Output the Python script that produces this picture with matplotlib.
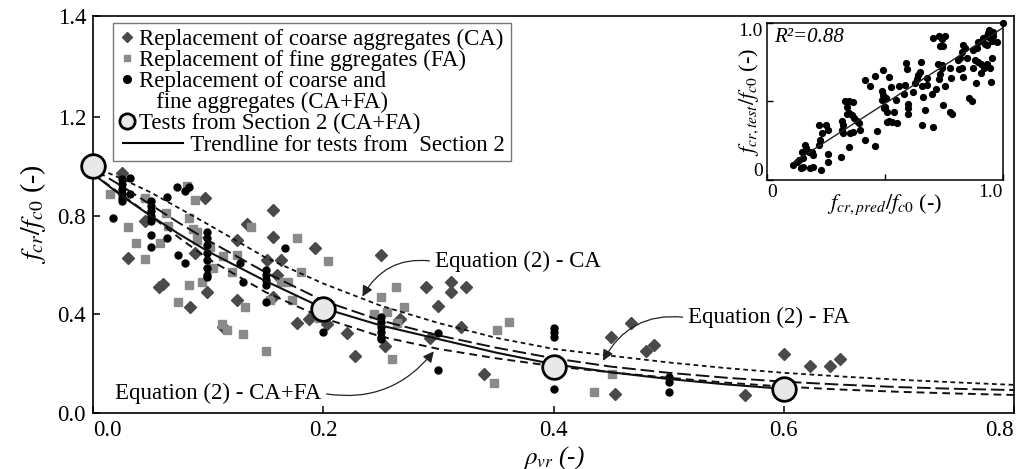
import numpy as np
import matplotlib
matplotlib.use("Agg")
import matplotlib.pyplot as plt
from matplotlib.lines import Line2D
from matplotlib.legend_handler import HandlerLine2D

plt.rcParams['font.family'] = ['Liberation Serif', 'DejaVu Serif']
plt.rcParams['mathtext.fontset'] = 'stix'

# ---------------- data ----------------
# Replacement of coarse aggregates (CA)
ca_rho = [0.025, 0.030, 0.045, 0.057, 0.061, 0.097, 0.089, 0.099, 0.084, 0.113,
          0.125, 0.134, 0.125, 0.156, 0.156, 0.151, 0.163, 0.160, 0.156, 0.177,
          0.188, 0.193, 0.203, 0.221, 0.228, 0.250, 0.254, 0.267, 0.289, 0.311,
          0.311, 0.324, 0.300, 0.320, 0.293, 0.340, 0.450, 0.467, 0.480, 0.487,
          0.453, 0.566, 0.600, 0.623, 0.640, 0.649]
ca_val = [0.975, 0.630, 0.780, 0.510, 0.525, 0.870, 0.650, 0.490, 0.430, 0.350,
          0.700, 0.765, 0.460, 0.825, 0.715, 0.620, 0.620, 0.560, 0.470, 0.365,
          0.380, 0.670, 0.360, 0.325, 0.230, 0.640, 0.270, 0.380, 0.510, 0.530,
          0.490, 0.510, 0.435, 0.350, 0.305, 0.160, 0.310, 0.365, 0.250, 0.275,
          0.077, 0.073, 0.240, 0.190, 0.190, 0.220]

# Replacement of fine aggregates (FA)
fa_rho = [0.015, 0.030, 0.037, 0.045, 0.045, 0.058, 0.065, 0.063, 0.074, 0.083,
          0.082, 0.089, 0.083, 0.087, 0.090, 0.090, 0.102, 0.104, 0.095, 0.113,
          0.121, 0.125, 0.112, 0.116, 0.130, 0.132, 0.137, 0.150, 0.154, 0.163,
          0.169, 0.177, 0.181, 0.173, 0.196, 0.204, 0.250, 0.244, 0.255, 0.263,
          0.260, 0.264, 0.270, 0.351, 0.361, 0.348, 0.435, 0.451]
fa_val = [0.890, 0.755, 0.690, 0.625, 0.870, 0.690, 0.760, 0.810, 0.450, 0.520,
          0.920, 0.865, 0.790, 0.745, 0.735, 0.700, 0.675, 0.590, 0.530, 0.635,
          0.570, 0.640, 0.360, 0.335, 0.320, 0.430, 0.755, 0.250, 0.460, 0.530,
          0.530, 0.710, 0.570, 0.460, 0.385, 0.615, 0.470, 0.400, 0.410, 0.510,
          0.220, 0.365, 0.430, 0.335, 0.370, 0.120, 0.085, 0.160]

# Replacement of coarse and fine aggregates (CA+FA)
cafa_rho = [0.025, 0.025, 0.025, 0.025, 0.025, 0.025, 0.032, 0.032, 0.017,
            0.050, 0.050, 0.050, 0.050, 0.050, 0.050, 0.050,
            0.064, 0.064, 0.073, 0.080, 0.083, 0.074, 0.080,
            0.099, 0.099, 0.099, 0.099, 0.099, 0.099, 0.099, 0.099,
            0.128, 0.130, 0.167,
            0.150, 0.150, 0.150, 0.150, 0.150,
            0.200,
            0.250, 0.250, 0.250, 0.250, 0.250, 0.250,
            0.300, 0.300,
            0.400, 0.400, 0.400, 0.400,
            0.500, 0.500, 0.500]
cafa_val = [0.950, 0.930, 0.910, 0.890, 0.870, 0.860, 0.955, 0.890, 0.790,
            0.860, 0.840, 0.820, 0.800, 0.780, 0.720, 0.675,
            0.875, 0.710, 0.915, 0.900, 0.915, 0.640, 0.610,
            0.735, 0.710, 0.680, 0.650, 0.620, 0.590, 0.560, 0.550,
            0.610, 0.530, 0.670,
            0.580, 0.560, 0.540, 0.520, 0.450,
            0.330,
            0.390, 0.370, 0.350, 0.330, 0.310, 0.300,
            0.325, 0.175,
            0.345, 0.330, 0.310, 0.097,
            0.145, 0.125, 0.085]

# Tests from Section 2 (CA+FA)
sec2_rho = [0.0, 0.2, 0.4, 0.6]
sec2_val = [1.0, 0.42, 0.187, 0.098]

# Trendline for tests from Section 2
trend_rho = [0.0, 0.025, 0.05, 0.075, 0.10, 0.15, 0.20, 0.25, 0.30, 0.35, 0.40,
             0.45, 0.50, 0.55, 0.60]
trend_val = [0.97, 0.88, 0.80, 0.725, 0.655, 0.535, 0.425, 0.355, 0.300, 0.245,
             0.198, 0.165, 0.138, 0.116, 0.098]

# Equation (2) curves
eq_rho = [0.0, 0.025, 0.05, 0.075, 0.10, 0.15, 0.20, 0.25, 0.30, 0.35, 0.40,
          0.45, 0.50, 0.55, 0.60, 0.65, 0.70, 0.75, 0.80]
eq_ca = [1.0, 0.95, 0.895, 0.83, 0.765, 0.63, 0.525, 0.435, 0.365, 0.305,
         0.26, 0.232, 0.205, 0.182, 0.163, 0.148, 0.135, 0.124, 0.114]
eq_fa = [0.99, 0.92, 0.845, 0.77, 0.70, 0.57, 0.455, 0.375, 0.315, 0.265,
         0.222, 0.188, 0.163, 0.143, 0.127, 0.115, 0.105, 0.098, 0.093]
eq_cafa = [0.97, 0.885, 0.80, 0.71, 0.625, 0.49, 0.385, 0.31, 0.26, 0.222,
           0.19, 0.165, 0.143, 0.123, 0.107, 0.095, 0.086, 0.079, 0.073]

# Inset: predicted vs tested strength ratio
inset_pred = [0.112, 0.137, 0.143, 0.151, 0.161, 0.165, 0.179, 0.182, 0.194, 0.196,
              0.229, 0.222, 0.225, 0.232, 0.222, 0.250, 0.260, 0.260, 0.260, 0.147,
              0.129, 0.154, 0.189,
              0.314, 0.349, 0.316, 0.321, 0.316, 0.323, 0.331, 0.349, 0.366, 0.340,
              0.349, 0.359, 0.338, 0.369, 0.383, 0.391, 0.394, 0.352, 0.363, 0.415,
              0.458, 0.465,
              0.415, 0.436, 0.458, 0.493, 0.518, 0.524, 0.486, 0.493, 0.504, 0.486,
              0.496, 0.507, 0.538, 0.547, 0.507, 0.518, 0.528, 0.549, 0.500,
              0.561, 0.585, 0.589, 0.595, 0.599, 0.599, 0.599, 0.581, 0.620, 0.627,
              0.634, 0.641, 0.648, 0.651, 0.655, 0.662, 0.669, 0.655, 0.676, 0.679,
              0.705, 0.701, 0.716, 0.730, 0.733, 0.740, 0.747, 0.754,
              0.705, 0.730, 0.740, 0.754, 0.733, 0.746, 0.726, 0.740, 0.775, 0.778,
              0.775, 0.785, 0.811, 0.818, 0.825, 0.832, 0.839, 0.815, 0.825, 0.832,
              0.846, 0.857, 0.867, 0.874, 0.883, 0.874, 0.905, 0.886, 0.895,
              0.910, 0.917, 0.924, 0.931, 0.938, 0.945, 0.952, 0.959, 0.942, 0.959,
              0.973, 0.931, 0.952, 0.945, 0.931, 0.948, 1.000, 0.907, 0.919, 0.888,
              0.895]
inset_test = [0.096, 0.127, 0.074, 0.142, 0.223, 0.202, 0.176, 0.074, 0.085, 0.159,
              0.064, 0.223, 0.255, 0.297, 0.350, 0.350, 0.318, 0.163, 0.117, 0.180,
              0.117, 0.085, 0.180,
              0.149, 0.212, 0.376, 0.350, 0.318, 0.297, 0.503, 0.503, 0.495, 0.467,
              0.425, 0.414, 0.418, 0.393, 0.376, 0.361, 0.318, 0.297, 0.308, 0.255,
              0.219, 0.312,
              0.637, 0.601, 0.665, 0.701, 0.658, 0.595, 0.567, 0.541, 0.524, 0.510,
              0.461, 0.435, 0.435, 0.510, 0.372, 0.376, 0.372, 0.361, 0.465,
              0.601, 0.605, 0.743, 0.707, 0.482, 0.456, 0.418, 0.546, 0.558, 0.616,
              0.643, 0.669, 0.690, 0.754, 0.601, 0.531, 0.446, 0.350, 0.605, 0.648,
              0.340, 0.548, 0.580, 0.643, 0.673, 0.711, 0.478, 0.601,
              0.907, 0.919, 0.898, 0.919, 0.856, 0.856, 0.737, 0.732, 0.715, 0.652,
              0.435, 0.418, 0.764, 0.775, 0.813, 0.860, 0.843, 0.707, 0.715, 0.658,
              0.775, 0.520, 0.503, 0.828, 0.764, 0.715, 0.679, 0.616, 0.754,
              0.885, 0.902, 0.864, 0.919, 0.934, 0.907, 0.885, 0.919, 0.955, 0.945,
              0.881, 0.860, 0.775, 0.711, 0.737, 0.622, 1.000, 0.737, 0.711, 0.839,
              0.877]
inset_fit_x = [0.11, 1.0]
inset_fit_y = [0.11, 0.97]
r2_text = 'R\u00b2=0.88'

x_ticks = [0.0, 0.2, 0.4, 0.6, 0.8]
x_ticklabels = ['0.0', '0.2', '0.4', '0.6', '0.8']
y_ticks = [0.0, 0.4, 0.8, 1.2, 1.4]
y_ticklabels = ['0.0', '0.4', '0.8', '1.2', '1.4']

# ---------------- styling ----------------
FS = 16.5
C_CA = '#4a4a4a'
C_FA = '#8a8a8a'
C_CAFA = '#000000'

W, H = 1027, 469
fig = plt.figure(figsize=(W / 100, H / 100), dpi=100)
ax = fig.add_axes([93 / W, 1 - 413 / H, 921 / W, 397 / H])


def _fwd(y):
    y = np.asarray(y, dtype=float)
    return np.where(y <= 1.2, y, 1.2 + (y - 1.2) * 2.05)


def _inv(t):
    t = np.asarray(t, dtype=float)
    return np.where(t <= 1.2, t, 1.2 + (t - 1.2) / 2.05)


ax.set_yscale('function', functions=(_fwd, _inv))
ax.set_xlim(0, 0.8)
ax.set_ylim(0, 1.4)

ax.plot(ca_rho, ca_val, ls='none', marker='D', ms=6, color=C_CA, zorder=2)
ax.plot(fa_rho, fa_val, ls='none', marker='s', ms=5.5, color=C_FA, zorder=2)
ax.plot(cafa_rho, cafa_val, ls='none', marker='o', ms=5, color=C_CAFA, zorder=2)

ax.plot(eq_rho, eq_ca, color='#111111', lw=1.3, ls=(0, (2.6, 2.0)), zorder=3)
ax.plot(eq_rho, eq_fa, color='#111111', lw=1.4, ls=(0, (7, 2.5)), zorder=3)
ax.plot(eq_rho, eq_cafa, color='#111111', lw=1.4, ls=(0, (4, 2.6)), zorder=3)
ax.plot(trend_rho, trend_val, color='#111111', lw=1.5, zorder=4)
ax.plot(sec2_rho, sec2_val, ls='none', marker='o', ms=17, mfc='#e8e8e8',
        mec='black', mew=2.0, zorder=6, clip_on=False)

for s in ax.spines.values():
    s.set_linewidth(1.2)
ax.tick_params(direction='in', length=5, width=1.1, labelsize=FS, pad=5)
ax.set_xticks(x_ticks, x_ticklabels)
ax.set_yticks(y_ticks, y_ticklabels)
ax.minorticks_off()
xl = ax.get_xticklabels()
xl[0].set_ha('left')
xl[-1].set_ha('right')

ax.set_xlabel(r'$\rho_{vr}$ (-)', fontsize=18, fontstyle='italic', labelpad=2)
ax.set_ylabel(r'$f_{cr}/f_{c\mathit{0}}$ (-)', fontsize=20, labelpad=7)

# annotations for the Equation (2) curves
arrow_kw = dict(arrowstyle='-|>', color='#222222', lw=0.9, mutation_scale=16,
                shrinkA=2, shrinkB=0)
ax.annotate('Equation (2) - CA', xy=(0.234, 0.472), xytext=(0.297, 0.614),
            ha='left', va='center', fontsize=FS,
            arrowprops=dict(connectionstyle='arc3,rad=0.35', relpos=(0, 0.5), **arrow_kw))
ax.annotate('Equation (2) - FA', xy=(0.443, 0.212), xytext=(0.517, 0.386),
            ha='left', va='center', fontsize=FS,
            arrowprops=dict(connectionstyle='arc3,rad=0.35', relpos=(0, 0.5), **arrow_kw))
ax.annotate('Equation (2) - CA+FA', xy=(0.296, 0.25), xytext=(0.019, 0.081),
            ha='left', va='center', fontsize=FS,
            arrowprops=dict(connectionstyle='arc3,rad=0.3', relpos=(1, 0.5), **arrow_kw))


# legend
class LongLineHandler(HandlerLine2D):
    def create_artists(self, legend, orig_handle, xdescent, ydescent, width,
                       height, fontsize, trans):
        y = height / 2 - ydescent
        x0 = -xdescent + 0.2 * fontsize
        x1 = x0 + 2.6 * fontsize
        line = Line2D([x0, x1], [y, y], color=orig_handle.get_color(),
                      lw=orig_handle.get_linewidth(), transform=trans)
        return [line]


h_ca = Line2D([], [], ls='none', marker='D', ms=5, color=C_CA)
h_fa = Line2D([], [], ls='none', marker='s', ms=5, color=C_FA)
h_cafa = Line2D([], [], ls='none', marker='o', ms=5.5, color=C_CAFA)
h_blank = Line2D([], [], ls='none', marker='none')
h_sec2 = Line2D([], [], ls='none', marker='o', ms=11, mfc='#e8e8e8', mec='black', mew=2.0)
h_trend = Line2D([], [], color='black', lw=1.5)

leg = ax.legend(
    [h_ca, h_fa, h_cafa, h_blank, h_sec2, h_trend],
    ['Replacement of coarse aggregates (CA)',
     'Replacement of fine ggregates (FA)',
     'Replacement of coarse and',
     '   fine aggregates (CA+FA)',
     'Tests from Section 2 (CA+FA)',
     '         Trendline for tests from  Section 2'],
    handler_map={h_trend: LongLineHandler()},
    loc='upper left', bbox_to_anchor=((113 - 93) / 921, (413 - 23) / 397),
    borderaxespad=0, fontsize=FS, frameon=True, fancybox=False,
    edgecolor='#777777', framealpha=1, borderpad=0.25, handlelength=0.7,
    handletextpad=0.2, labelspacing=0.0)
leg.get_frame().set_linewidth(1.0)

# inset: predicted vs tested
axi = fig.add_axes([767 / W, 1 - 180 / H, 236 / W, 157 / H])
axi.plot(inset_pred, inset_test, ls='none', marker='o', ms=4.2, color='black',
         clip_on=False)
axi.plot(inset_fit_x, inset_fit_y, color='#222222', lw=1.0)
axi.set_xlim(0, 1.0)
axi.set_ylim(0, 1.0)
axi.set_xticks([0, 0.5, 1.0], ['0', '', '1.0'])
axi.set_yticks([0, 0.5, 1.0], ['0', '', '1.0'])
axi.tick_params(direction='in', length=4, width=1.0, labelsize=14, pad=3)
for s in axi.spines.values():
    s.set_linewidth(1.1)
ixl = axi.get_xticklabels()
ixl[0].set_ha('left')
ixl[-1].set_ha('right')
iyl = axi.get_yticklabels()
iyl[0].set_va('bottom')
iyl[-1].set_va('top')
axi.set_xlabel(r'$f_{cr,pred}/f_{c\mathit{0}}$ (-)', fontsize=16, labelpad=-6)
axi.set_ylabel(r'$f_{cr,test}/f_{c\mathit{0}}$ (-)', fontsize=16, labelpad=-16)
axi.text(0.03, 0.97, r2_text, transform=axi.transAxes, ha='left', va='top',
         fontsize=15, fontstyle='italic')

fig.savefig('out.png', dpi=100)
